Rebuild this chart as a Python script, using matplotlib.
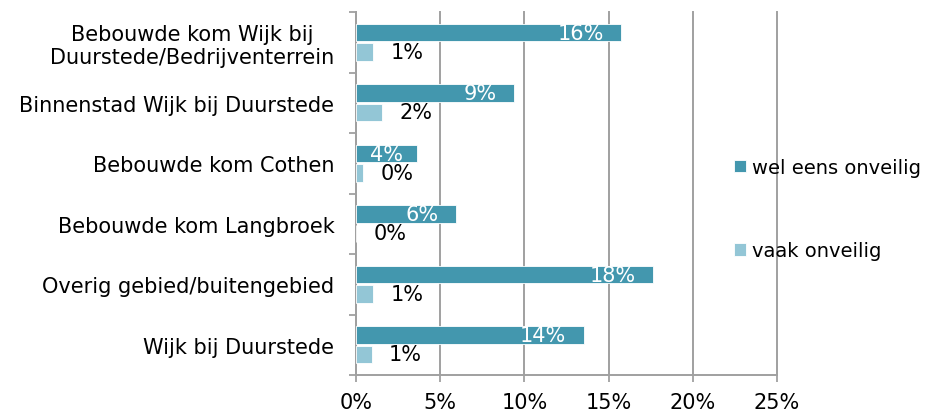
import matplotlib
matplotlib.use("Agg")
import matplotlib.pyplot as plt
import numpy as np

categories = [
    "Bebouwde kom Wijk bij\nDuurstede/Bedrijventerrein",
    "Binnenstad Wijk bij Duurstede",
    "Bebouwde kom Cothen",
    "Bebouwde kom Langbroek",
    "Overig gebied/buitengebied",
    "Wijk bij Duurstede",
]
wel_eens = [15.74, 9.40, 3.62, 5.92, 17.64, 13.52]
vaak = [1.01, 1.53, 0.44, 0.0, 1.01, 0.93]
wel_labels = ["16%", "9%", "4%", "6%", "18%", "14%"]
vaak_labels = ["1%", "2%", "0%", "0%", "1%", "1%"]
series_names = ["wel eens onveilig", "vaak onveilig"]
xticks = [0, 5, 10, 15, 20, 25]

dark = "#4397AE"
light = "#93C6D6"
grid_c = "#A0A0A0"
fs = 15

fig = plt.figure(figsize=(9.35, 4.14), dpi=100)
ax = fig.add_axes([356/935, 1 - 376/414, (777 - 356)/935, (376 - 13)/414])

n = len(categories)
y = np.arange(n)
h = 0.29
off = 0.16
b1 = ax.barh(y - off, wel_eens, height=h, color=dark, label=series_names[0], zorder=3,
             edgecolor="white", linewidth=0.6)
b2 = ax.barh(y + off, vaak, height=h, color=light, label=series_names[1], zorder=3,
             edgecolor="white", linewidth=0.6)

for i in range(n):
    if wel_eens[i] < 5:
        ax.text(wel_eens[i] / 2, y[i] - off, wel_labels[i], color="white", fontsize=fs,
                ha="center", va="center", zorder=4)
    else:
        ax.annotate(wel_labels[i], (wel_eens[i], y[i] - off), xytext=(-12.5, 0),
                    textcoords="offset points", color="white", fontsize=fs,
                    ha="right", va="center", zorder=4)
    ax.annotate(vaak_labels[i], (vaak[i], y[i] + off), xytext=(12.5, 0),
                textcoords="offset points", color="black", fontsize=fs,
                ha="left", va="center", zorder=4)

ax.set_xlim(0, 25)
ax.set_ylim(n - 0.5, -0.5)
ax.set_xticks(xticks)
ax.set_xticklabels([f"{v}%" for v in xticks], fontsize=fs)
ax.set_yticks(y)
ax.set_yticklabels(categories, fontsize=fs, multialignment="center")
ax.set_yticks(np.arange(n + 1) - 0.5, minor=True)
ax.tick_params(axis="y", which="major", length=0, pad=15.5)
ax.tick_params(axis="y", which="minor", length=5, color=grid_c, width=1.3)
ax.tick_params(axis="x", length=5, color=grid_c, width=1.3, pad=7)

ax.grid(axis="x", color=grid_c, linewidth=1.4, zorder=0)
for gl in ax.get_xgridlines():
    gl.set_clip_on(False)
for s in ["top", "right"]:
    ax.spines[s].set_visible(False)
for s in ["left", "bottom"]:
    ax.spines[s].set_color(grid_c)
    ax.spines[s].set_linewidth(1.4)

leg = fig.legend(handles=[b1, b2], labels=series_names, loc="center left",
                 bbox_to_anchor=(726/935, 1 - 210/414), frameon=False, fontsize=14,
                 borderaxespad=0, handlelength=0.62, handleheight=0.62,
                 handletextpad=0.3, labelspacing=3.3)

fig.savefig("out.png", dpi=100)
